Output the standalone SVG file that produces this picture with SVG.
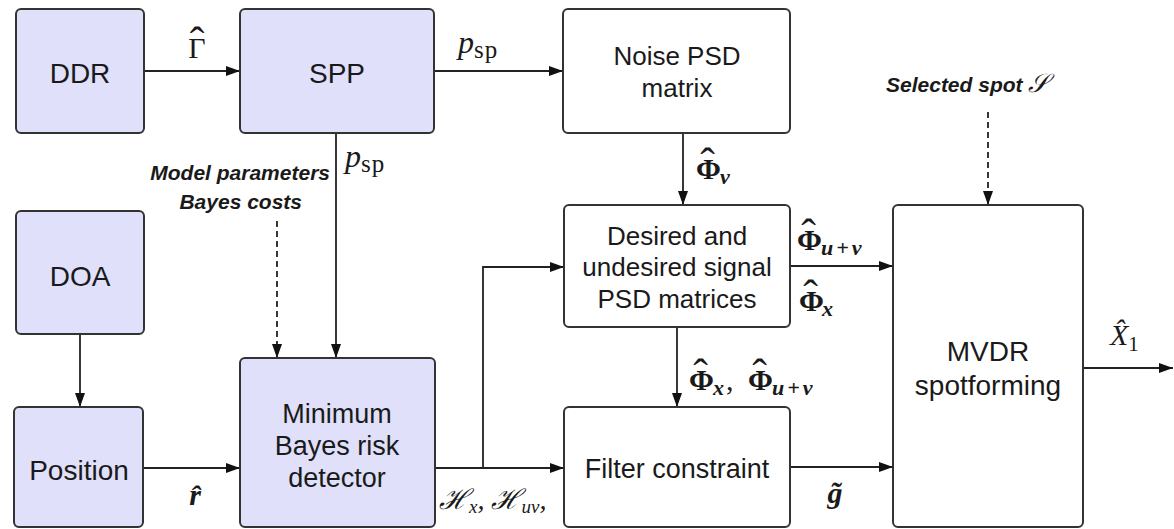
<svg xmlns="http://www.w3.org/2000/svg" width="1174" height="529" viewBox="0 0 1174 529">
<defs>
<style>
.box{stroke:#333;stroke-width:2;}
.lav{fill:#e0e0fa;}
.wht{fill:#ffffff;}
.lbl{font-family:"Liberation Sans",Arial,sans-serif;fill:#1a1a1a;text-anchor:middle;}
.note{font-family:"Liberation Sans",Arial,sans-serif;font-weight:bold;font-style:italic;font-size:21px;fill:#1a1a1a;}
.math{font-family:"Liberation Serif","DejaVu Serif",serif;fill:#1a1a1a;}
.hat{font-size:44px;font-weight:normal;font-style:normal;text-anchor:middle;}
.sub{font-size:22px;font-style:italic;text-anchor:start;}
.conn{stroke:#222;stroke-width:1.8;fill:none;}
.dash{stroke-dasharray:6 4;}
</style>
<marker id="ah" markerUnits="userSpaceOnUse" markerWidth="14" markerHeight="10" refX="14" refY="5" orient="auto">
<path d="M0,0 L14,5 L0,10 z" fill="#111"/>
</marker>
</defs>
<rect width="1174" height="529" fill="#ffffff"/>

<!-- label partially hidden by filter box -->
<text class="math" x="439" y="509" font-size="28" font-style="italic">ℋ<tspan font-size="19" dy="4">x</tspan><tspan dy="-4">, ℋ</tspan><tspan font-size="19" dy="4">uv</tspan><tspan dy="-4">,</tspan></text>

<g id="connectors">
<line class="conn" x1="144" y1="71" x2="240" y2="71" marker-end="url(#ah)"/>
<line class="conn" x1="434" y1="71" x2="563" y2="71" marker-end="url(#ah)"/>
<line class="conn" x1="336" y1="133" x2="336" y2="358" marker-end="url(#ah)"/>
<line class="conn dash" x1="277" y1="221" x2="277" y2="358" marker-end="url(#ah)"/>
<line class="conn" x1="80" y1="334" x2="80" y2="407" marker-end="url(#ah)"/>
<line class="conn" x1="143" y1="468" x2="240" y2="468" marker-end="url(#ah)"/>
<line class="conn" x1="435" y1="468" x2="564" y2="468" marker-end="url(#ah)"/>
<polyline class="conn" points="483,468 483,267 564,267" marker-end="url(#ah)"/>
<line class="conn" x1="683" y1="133" x2="683" y2="205" marker-end="url(#ah)"/>
<line class="conn" x1="790" y1="266" x2="893" y2="266" marker-end="url(#ah)"/>
<line class="conn" x1="677" y1="327" x2="677" y2="407" marker-end="url(#ah)"/>
<line class="conn" x1="790" y1="467" x2="893" y2="467" marker-end="url(#ah)"/>
<line class="conn dash" x1="988" y1="112" x2="988" y2="205" marker-end="url(#ah)"/>
<line class="conn" x1="1083" y1="368" x2="1173" y2="368" marker-end="url(#ah)"/>
</g>

<g id="ddr">
<rect class="box lav" x="16" y="9" width="128" height="124" rx="5"/>
<text class="lbl" x="80" y="83" font-size="28">DDR</text>
</g>
<g id="spp">
<rect class="box lav" x="240" y="9" width="194" height="124" rx="5"/>
<text class="lbl" x="337" y="83" font-size="28">SPP</text>
</g>
<g id="noise">
<rect class="box wht" x="563" y="9" width="227" height="124" rx="5"/>
<text class="lbl" x="677" y="65" font-size="26">Noise PSD</text>
<text class="lbl" x="677" y="97" font-size="26">matrix</text>
</g>
<g id="doa">
<rect class="box lav" x="16" y="211" width="128" height="123" rx="5"/>
<text class="lbl" x="80" y="286" font-size="28">DOA</text>
</g>
<g id="position">
<rect class="box lav" x="14" y="407" width="129" height="120" rx="5"/>
<text class="lbl" x="79" y="480" font-size="28">Position</text>
</g>
<g id="mbr">
<rect class="box lav" x="240" y="358" width="195" height="169" rx="5"/>
<text class="lbl" x="337" y="423" font-size="27">Minimum</text>
<text class="lbl" x="337" y="455" font-size="27">Bayes risk</text>
<text class="lbl" x="337" y="487" font-size="27">detector</text>
</g>
<g id="desired">
<rect class="box wht" x="564" y="205" width="226" height="122" rx="5"/>
<text class="lbl" x="677" y="245" font-size="26">Desired and</text>
<text class="lbl" x="677" y="276" font-size="26">undesired signal</text>
<text class="lbl" x="677" y="308" font-size="26">PSD matrices</text>
</g>
<g id="filter">
<rect class="box wht" x="564" y="407" width="226" height="120" rx="5"/>
<text class="lbl" x="677" y="478" font-size="27">Filter constraint</text>
</g>
<g id="mvdr">
<rect class="box wht" x="893" y="205" width="190" height="322" rx="5"/>
<text class="lbl" x="988" y="361" font-size="28">MVDR</text>
<text class="lbl" x="988" y="395" font-size="28">spotforming</text>
</g>

<g id="labels">
<text class="math" font-size="30"><tspan x="197" y="58" text-anchor="middle">Γ</tspan><tspan class="hat" x="197" y="57">ˆ</tspan></text>

<text class="math" x="458" y="53" font-size="32"><tspan font-style="italic">p</tspan><tspan font-size="25" dy="5" letter-spacing="1">sp</tspan></text>
<text class="math" x="345" y="167" font-size="32"><tspan font-style="italic">p</tspan><tspan font-size="25" dy="5" letter-spacing="1">sp</tspan></text>

<text class="note" x="330" y="180" text-anchor="end">Model parameters</text>
<text class="note" x="302" y="209" text-anchor="end">Bayes costs</text>

<text class="note" x="886" y="92">Selected spot <tspan class="math" font-weight="normal" font-size="26">𝒮</tspan></text>

<text class="math" font-size="30" font-weight="bold"><tspan x="696" y="179">Φ</tspan><tspan class="hat" x="707.5" y="178">ˆ</tspan><tspan class="sub" x="720" y="184">v</tspan></text>

<text class="math" font-size="30" font-weight="bold"><tspan x="797" y="250">Φ</tspan><tspan class="hat" x="808.5" y="249">ˆ</tspan><tspan class="sub" x="821" y="255" letter-spacing="3">u+v</tspan></text>

<text class="math" font-size="30" font-weight="bold"><tspan x="799" y="311">Φ</tspan><tspan class="hat" x="810.5" y="310">ˆ</tspan><tspan class="sub" x="822" y="316">x</tspan></text>

<text class="math" font-size="30" font-weight="bold"><tspan x="689" y="390">Φ</tspan><tspan class="hat" x="700.5" y="389">ˆ</tspan><tspan class="sub" x="713" y="395">x</tspan><tspan x="726" y="390" font-weight="normal">,</tspan><tspan x="748" y="390">Φ</tspan><tspan class="hat" x="759.5" y="389">ˆ</tspan><tspan class="sub" x="772" y="395" letter-spacing="3">u+v</tspan></text>

<text class="math" x="835" y="503" font-size="30" font-style="italic" font-weight="bold" text-anchor="middle">g̃</text>

<text class="math" x="1110" y="345" font-size="30" font-style="italic">X̂<tspan font-style="normal" font-size="21" dy="6">1</tspan></text>

<text class="math" x="195" y="505" font-size="30" font-style="italic" font-weight="bold" text-anchor="middle">r̂</text>
</g>
</svg>
